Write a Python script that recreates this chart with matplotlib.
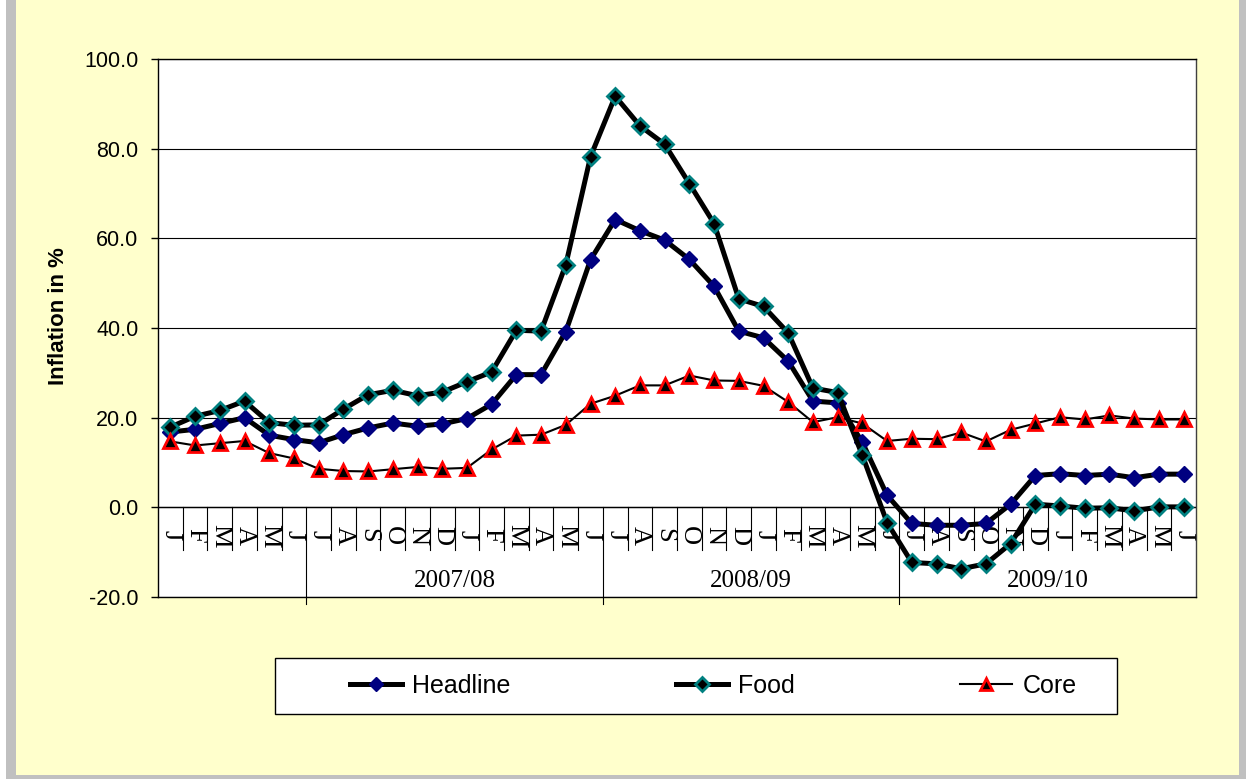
import numpy as np
import matplotlib
matplotlib.use('Agg')
import matplotlib.pyplot as plt
from matplotlib.patches import Rectangle
from matplotlib.lines import Line2D
from matplotlib.ticker import FormatStrFormatter

plt.rcParams['font.family'] = ['Liberation Sans', 'DejaVu Sans']

# =============================================================================
# data
# =============================================================================

months = ['J', 'F', 'M', 'A', 'M', 'J',
          'J', 'A', 'S', 'O', 'N', 'D', 'J', 'F', 'M', 'A', 'M', 'J',
          'J', 'A', 'S', 'O', 'N', 'D', 'J', 'F', 'M', 'A', 'M', 'J',
          'J', 'A', 'S', 'O', 'N', 'D', 'J', 'F', 'M', 'A', 'M', 'J']

groups = ['2007/08', '2008/09', '2009/10']
group_start = [6, 18, 30]

headline = [16.8, 17.4, 18.7, 20.0, 16.1, 15.1, 14.4, 16.2, 17.7, 18.8,
            18.1, 18.6, 19.8, 23.0, 29.6, 29.6, 39.2, 55.2, 64.2, 61.7,
            59.6, 55.3, 49.3, 39.3, 37.8, 32.6, 23.7, 23.3, 14.5, 2.7,
            -3.6, -4.0, -4.0, -3.6, 0.7, 7.1, 7.5, 7.1, 7.4, 6.6,
            7.4, 7.4]

food = [17.9, 20.3, 21.6, 23.7, 18.9, 18.3, 18.4, 21.9, 25.1, 26.1,
        24.9, 25.7, 28.0, 30.2, 39.5, 39.3, 54.1, 78.2, 91.7, 85.1,
        81.0, 72.2, 63.3, 46.5, 44.8, 38.9, 26.6, 25.6, 11.6, -3.4,
        -12.3, -12.6, -13.7, -12.6, -8.1, 0.7, 0.3, -0.2, -0.1, -0.8,
        0.1, 0.1]

core = [14.7, 13.8, 14.3, 14.8, 12.1, 10.9, 8.6, 8.1, 8.0, 8.5,
        9.0, 8.6, 8.8, 12.9, 16.0, 16.2, 18.4, 23.1, 24.9, 27.2,
        27.2, 29.4, 28.3, 28.2, 27.1, 23.5, 19.0, 20.1, 18.7, 14.8,
        15.3, 15.2, 16.7, 14.7, 17.3, 18.7, 20.1, 19.6, 20.5, 19.8,
        19.6, 19.6]

# =============================================================================

W, H = 1246, 779


def fx(px):
    return px / W


def fy(py):
    return 1 - py / H


fig = plt.figure(figsize=(W / 100, H / 100), dpi=100, facecolor='white')

# background panel with grey shadow
fig.patches.append(Rectangle((fx(6), 0), 1 - fx(6), 1, transform=fig.transFigure,
                             facecolor='#c0c0c0', edgecolor='none', zorder=-10))
fig.patches.append(Rectangle((fx(16), fy(775)), fx(1239) - fx(16), 1 - fy(775),
                             transform=fig.transFigure, facecolor='#ffffcc',
                             edgecolor='none', zorder=-9))

ax = fig.add_axes([fx(158), fy(597), fx(1196) - fx(158), fy(59) - fy(597)])
ax.set_facecolor('white')

x = np.arange(len(months))
ax.plot(x, headline, color='black', lw=3.6, marker='D', ms=8.5,
        mfc='#000080', mec='#000080', zorder=4)
ax.plot(x, food, color='black', lw=3.6, marker='D', ms=8.5,
        mfc='black', mec='#008080', mew=2, zorder=5)
ax.plot(x, core, color='black', lw=1.5, marker='^', ms=10.5,
        mfc='black', mec='#ff0000', mew=2, zorder=6)

ax.set_xlim(-0.5, len(months) - 0.5)
ax.set_ylim(-20, 100)
ax.set_yticks(np.arange(-20, 101, 20))
ax.yaxis.set_major_formatter(FormatStrFormatter('%.1f'))
ax.tick_params(axis='y', direction='out', length=5, width=1, pad=9, labelsize=15.5)
ax.set_xticks([])
ax.grid(axis='y', color='black', lw=0.8, zorder=1)
ax.set_axisbelow(True)
ax.axhline(0, color='black', lw=1, zorder=2)

for s in ['left', 'bottom', 'top']:
    ax.spines[s].set_color('black')
    ax.spines[s].set_linewidth(1)
ax.spines['right'].set_color('#404040')
ax.spines['right'].set_linewidth(1)

# category axis (months and fiscal years)
for i, m in enumerate(months):
    ax.text(i, -6.3, m, rotation=270, ha='center', va='center',
            family='Liberation Serif', fontsize=19, zorder=2)

for b in range(1, len(months)):
    if b in group_start:
        ax.plot([b - 0.5, b - 0.5], [0, -21.5], color='black', lw=0.8,
                clip_on=False, zorder=2)
    else:
        ax.plot([b - 0.5, b - 0.5], [0, -9.6], color='black', lw=0.8, zorder=2)

for g, st in zip(groups, group_start):
    ax.text(st + 5.5, -16.5, g, ha='center', va='center',
            family='Liberation Serif', fontsize=18, zorder=2)

fig.text(fx(58), fy(316), 'Inflation in %', rotation=90, ha='center',
         va='center', fontweight='bold', fontsize=16)

# legend box
fig.patches.append(Rectangle((fx(275), fy(714)), fx(1117) - fx(275), fy(658) - fy(714),
                             transform=fig.transFigure, facecolor='white',
                             edgecolor='black', lw=1, zorder=1))
handles = [
    Line2D([], [], color='black', lw=3.6, marker='D', ms=7, mfc='#000080', mec='#000080'),
    Line2D([], [], color='black', lw=3.6, marker='D', ms=7, mfc='black', mec='#008080', mew=2),
    Line2D([], [], color='black', lw=1.5, marker='^', ms=9, mfc='black', mec='#ff0000', mew=2),
]
fig.legend(handles, ['Headline', 'Food', 'Core'], ncol=3, loc='center',
           bbox_to_anchor=(fx(713), fy(686)), frameon=False, fontsize=18,
           handlelength=2.1, handletextpad=0.4, columnspacing=6.6)

fig.savefig('out.png', dpi=100)
